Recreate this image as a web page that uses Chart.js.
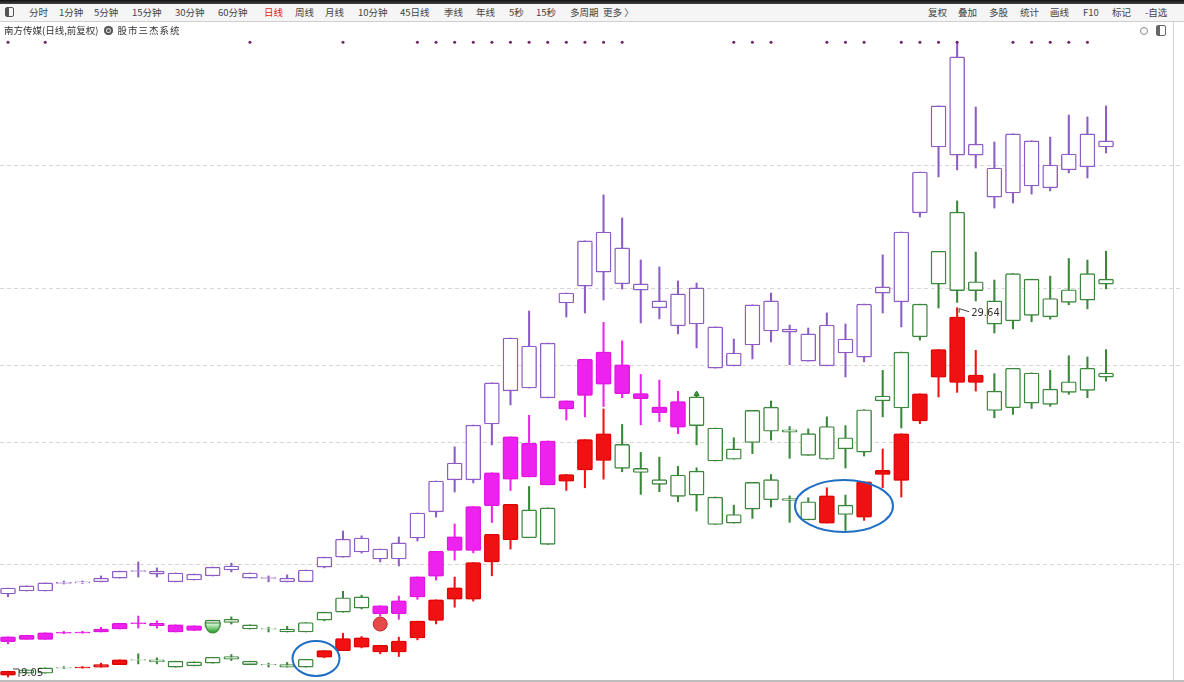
<!DOCTYPE html>
<html><head><meta charset="utf-8">
<script src="https://cdn.jsdelivr.net/npm/chart.js@4.4.1/dist/chart.umd.min.js"></script>
<style>
html,body{margin:0;padding:0;background:#fff;width:1184px;height:682px;overflow:hidden;font-family:"Noto Sans CJK SC","Noto Sans",sans-serif;}
#wrap{position:relative;width:1184px;height:682px;}
#c{position:absolute;left:0;top:0;}
#topstrip{position:absolute;left:0;top:0;width:1184px;height:4px;background:linear-gradient(#111,#444);}
#toolbar{position:absolute;left:0;top:4px;width:1184px;height:17px;background:#f5f5f5;border-bottom:1px solid #cfcfcf;font-size:9.5px;color:#444;}
#toolbar span{position:absolute;top:2px;white-space:nowrap;line-height:13px;}
#title{position:absolute;left:4px;top:24px;font-size:9.5px;color:#333;white-space:nowrap;line-height:13px;}
#title .ic{display:inline-block;width:9px;height:9px;border-radius:50%;background:#555;box-shadow:inset 0 0 0 2px #555, inset 0 0 0 3px #ddd;vertical-align:-1px;margin:0 5px 0 5px;}
#title .sys{letter-spacing:1px;}
#rb{position:absolute;left:1173px;top:22px;width:1px;height:660px;background:#d4d4d4;}
#bb{position:absolute;left:0;top:680px;width:1184px;height:2px;background:#bdbdbd;}
.box{position:absolute;border:1px solid #555;border-radius:2px;}
</style></head>
<body><div id="wrap">
<canvas id="c" width="1184" height="682"></canvas>
<div id="topstrip"></div>
<div id="toolbar">
<div class="box" style="left:5px;top:3px;width:7px;height:8px;"><div style="width:3px;height:8px;background:#555"></div></div>
<span style="left:29px">分时</span>
<span style="left:59px">1分钟</span>
<span style="left:94px">5分钟</span>
<span style="left:132px">15分钟</span>
<span style="left:175px">30分钟</span>
<span style="left:218px">60分钟</span>
<span style="left:264px;color:#e02020">日线</span>
<span style="left:295px">周线</span>
<span style="left:325px">月线</span>
<span style="left:358px">10分钟</span>
<span style="left:400px">45日线</span>
<span style="left:444px">季线</span>
<span style="left:476px">年线</span>
<span style="left:509px">5秒</span>
<span style="left:536px">15秒</span>
<span style="left:570px">多周期</span>
<span style="left:603px">更多 〉</span>
<span style="left:928px">复权</span>
<span style="left:958px">叠加</span>
<span style="left:989px">多股</span>
<span style="left:1020px">统计</span>
<span style="left:1050px">画线</span>
<span style="left:1083px">F10</span>
<span style="left:1112px">标记</span>
<span style="left:1145px">-自选</span>
</div>
<div id="title">南方传媒(日线,前复权)<span class="ic"></span><span class="sys">股市三杰系统</span></div>
<div style="position:absolute;left:1140px;top:27px;width:6px;height:6px;border:1px solid #888;border-radius:50%;"></div>
<div class="box" style="left:1156px;top:25px;width:8px;height:9px;border-color:#666"><div style="width:3px;height:9px;background:#666"></div></div>
<div id="rb"></div>
<div id="bb"></div>
</div>
<script>
// ---- data (daily candles, price units) ----
const days = [0,1,2,3,4,5,6,7,8,9,10,11,12,13,14,15,16,17,18,19,20,21,22,23,24,25,26,27,28,29,30,31,32,33,34,35,36,37,38,39,40,41,42,43,44,45,46,47,48,49,50,51,52,53,54,55,56,57,58,59];
const open  = [9.15,9.26,9.26,9.54,9.56,9.60,9.74,9.99,9.89,9.60,9.67,9.82,10.04,9.74,9.73,9.60,9.60,10.15,10.52,10.71,10.45,10.45,11.23,12.20,13.39,13.39,15.47,16.70,16.81,16.44,19.97,20.60,21.12,20.68,20.45,19.79,19.12,19.19,17.55,17.63,18.41,18.93,18.89,17.81,17.63,18.11,17.96,20.34,20.01,23.32,25.77,25.47,25.47,23.91,24.06,24.32,24.25,24.92,25.03,25.77];
const close = [9.37,9.45,9.56,9.58,9.60,9.74,10.00,10.02,10.00,9.93,9.89,10.15,10.19,9.93,9.76,9.74,10.04,10.52,11.19,11.23,10.82,11.05,12.16,13.35,14.02,15.43,17.00,18.67,18.37,18.48,20.34,22.28,22.61,22.02,20.68,20.05,20.31,20.53,19.08,18.11,19.90,20.05,19.00,18.82,19.15,18.63,19.93,20.57,22.61,24.84,27.30,29.12,25.88,24.99,26.26,26.00,25.10,25.51,26.26,26.00];
const high  = [9.37,9.45,9.56,9.63,9.63,9.82,10.00,10.34,10.12,9.93,9.89,10.15,10.30,9.93,9.82,9.86,10.04,10.52,11.49,11.31,10.82,11.27,12.16,13.35,14.62,15.43,17.00,18.67,19.67,18.48,20.34,22.28,23.99,23.13,21.57,21.31,20.79,20.71,19.08,18.63,19.90,20.34,19.15,19.04,19.60,19.19,19.93,21.76,22.61,24.84,27.30,29.64,27.26,25.96,26.26,26.00,26.14,26.96,26.89,27.30];
const low   = [9.05,9.26,9.26,9.52,9.54,9.60,9.74,9.78,9.78,9.60,9.67,9.82,9.97,9.74,9.60,9.60,9.60,10.12,10.52,10.67,10.34,10.19,11.12,12.01,12.94,13.28,14.69,16.18,16.81,16.44,19.45,19.60,20.08,20.49,19.23,19.38,18.82,18.30,17.55,17.63,17.89,18.52,17.67,17.81,17.63,17.22,17.78,19.60,19.08,23.17,24.66,24.92,24.99,23.50,23.69,24.02,24.14,24.81,24.62,25.55];
// signal state per day for the middle row (1 = magenta filled, 0 = green hollow)
const midFilled = [1,1,1,1,1,1,1,1,1,1,1,0,0,0,0,0,0,0,0,0,1,1,1,1,1,1,1,1,1,1,1,1,1,1,1,1,1,0,0,0,0,0,0,0,0,0,0,0,0,0,0,0,0,0,0,0,0,0,0,0];
// signal state per day for the bottom row (1 = red filled, 0 = green hollow)
const botFilled = [1,0,0,0,1,1,1,0,0,0,0,0,0,0,0,0,0,1,1,1,1,1,1,1,1,1,1,1,0,0,1,1,1,0,0,0,0,0,0,0,0,0,0,0,1,0,1,1,1,1,1,1,1,0,0,0,0,0,0,0];
// days with a signal dot in the top marker row
const signalDays = [0,2,13,18,22,23,24,25,26,27,28,29,30,31,32,33,39,40,41,44,45,46,48,49,50,51,54,55,56,57,58];
// special markers
const redBallDay = 20, redBallPrice = 9.97;      // middle-row scale
const cupDay = 11, cupPrice = 9.79;              // middle-row scale
const tipDay = 37, tipPrice = 20.66;             // middle-row scale
// hand-drawn circles (bottom-row scale)
const circleDays = [16.55, 44.92];
const circlePrices = [10.08, 18.58];
// dashed reference levels (top-row scale)
const gridLevels = [25.10, 20.53, 17.65, 14.80, 10.26];

// ---- styles ----
const PURPLE = '#8d5cc4', MAGENTA = '#ee22ee', GREEN = '#3a863a', RED = '#f01212';

function bodies(sel) { return days.filter(i => sel(i)).map(i => ({x: days[i], y: [open[i], close[i]]})); }
function wicks() { return days.map(i => ({x: days[i], y: [low[i], high[i]]})); }

const bodyOpts = {barThickness: 15, borderWidth: 1.4, borderSkipped: false, borderRadius: 1.5, grouped: false, order: 1};
const wickOpts = {barThickness: 1.4, borderWidth: 0, grouped: false, order: 2};

// cup marker image
const cup = document.createElement('canvas'); cup.width = 18; cup.height = 16;
(function(){ const g = cup.getContext('2d');
  const gr = g.createLinearGradient(0,3,0,13); gr.addColorStop(0,'#f0fbf0'); gr.addColorStop(0.35,'#9ede9e'); gr.addColorStop(1,'#229a22');
  g.beginPath(); g.moveTo(1.5,3); g.lineTo(16.5,3); g.ellipse(9,3,7.5,10,0,0,Math.PI,false); g.closePath();
  g.fillStyle = gr; g.fill(); g.lineWidth = 1.2; g.strokeStyle = '#2a7a2a'; g.stroke(); })();

const datasets = [
  Object.assign({label:'topWick', data: wicks(), yAxisID:'yT', backgroundColor: PURPLE}, wickOpts),
  Object.assign({label:'topBody', data: bodies(i => true), yAxisID:'yT', backgroundColor:'#ffffff', borderColor: PURPLE}, bodyOpts),
  Object.assign({label:'midWick', data: wicks(), yAxisID:'yM', backgroundColor: days.map(i => midFilled[i] ? MAGENTA : GREEN)}, wickOpts),
  Object.assign({label:'midFill', data: bodies(i => midFilled[i]), yAxisID:'yM', backgroundColor: MAGENTA, borderColor:'#d814d8', glow:'rgba(255,40,255,0.7)'}, bodyOpts),
  Object.assign({label:'midHollow', data: bodies(i => !midFilled[i]), yAxisID:'yM', backgroundColor:'#ffffff', borderColor: GREEN}, bodyOpts),
  Object.assign({label:'botWick', data: wicks(), yAxisID:'yB', backgroundColor: days.map(i => botFilled[i] ? RED : GREEN)}, wickOpts),
  Object.assign({label:'botFill', data: bodies(i => botFilled[i]), yAxisID:'yB', backgroundColor: RED, borderColor:'#d80000', glow:'rgba(255,30,30,0.6)'}, bodyOpts),
  Object.assign({label:'botHollow', data: bodies(i => !botFilled[i]), yAxisID:'yB', backgroundColor:'#ffffff', borderColor: GREEN}, bodyOpts),
  {type:'scatter', label:'ball', data:[{x: redBallDay, y: redBallPrice}], yAxisID:'yM', pointRadius:7, backgroundColor:'#e64a4a', borderColor:'#b82828', borderWidth:1, order:0},
  {type:'scatter', label:'cup', data:[{x: cupDay, y: cupPrice}], yAxisID:'yM', pointStyle: cup, order:0},
  {type:'scatter', label:'tip', data:[{x: tipDay, y: tipPrice}], yAxisID:'yM', pointStyle:'triangle', pointRadius:3, backgroundColor:'#3aa03a', borderColor:'#2a7a2a', borderWidth:1, order:0},
  {type:'scatter', label:'dots', data: signalDays.map(d => ({x: d, y: 0.938})), yAxisID:'yD', pointRadius:1.5, backgroundColor:'#6e2466', borderWidth:0, order:0}
];

const glowPlugin = {
  id:'glow',
  beforeDatasetDraw(chart, args){ const ds = chart.data.datasets[args.index]; if (ds.glow){ chart.ctx.save(); chart.ctx.shadowColor = ds.glow; chart.ctx.shadowBlur = 5; } },
  afterDatasetDraw(chart, args){ const ds = chart.data.datasets[args.index]; if (ds.glow){ chart.ctx.restore(); } }
};
const gridPlugin = {
  id:'levels',
  beforeDatasetsDraw(chart){ const ctx = chart.ctx, yT = chart.scales.yT;
    ctx.save(); ctx.strokeStyle = '#d6d6d6'; ctx.lineWidth = 1; ctx.setLineDash([4,3]);
    gridLevels.forEach(v => { const y = Math.round(yT.getPixelForValue(v)) + 0.5; ctx.beginPath(); ctx.moveTo(0,y); ctx.lineTo(1180,y); ctx.stroke(); });
    ctx.restore(); }
};
const notePlugin = {
  id:'notes',
  afterDatasetsDraw(chart){ const ctx = chart.ctx, x = chart.scales.x, yB = chart.scales.yB;
    ctx.save();
    ctx.strokeStyle = '#1f6fc4'; ctx.lineWidth = 2;
    const rx = [23.5, 49], ry = [17.5, 26];
    circleDays.forEach((d, k) => { ctx.beginPath(); ctx.ellipse(x.getPixelForValue(d), yB.getPixelForValue(circlePrices[k]), rx[k], ry[k], 0, 0, Math.PI*2); ctx.stroke(); });
    // max / min price notes
    ctx.font = '10px "DejaVu Sans", sans-serif'; ctx.fillStyle = '#333'; ctx.strokeStyle = '#444'; ctx.lineWidth = 1;
    const hx = x.getPixelForValue(51), hy = yB.getPixelForValue(high[51]);
    ctx.beginPath(); ctx.moveTo(hx+2, hy+1); ctx.lineTo(hx+12, hy+4); ctx.moveTo(hx+2, hy+1); ctx.lineTo(hx+2, hy+5); ctx.stroke();
    ctx.textBaseline = 'middle'; ctx.fillText(high[51].toFixed(2), hx+14, hy+6);
    const lx = x.getPixelForValue(0), ly = yB.getPixelForValue(low[0]);
    ctx.beginPath(); ctx.moveTo(lx+5, ly-8); ctx.lineTo(lx+11, ly-8); ctx.lineTo(lx+11, ly); ctx.stroke();
    ctx.fillText(low[0].toFixed(2), lx+13, ly-4);
    ctx.restore(); }
};

new Chart(document.getElementById('c'), {
  type:'bar',
  data:{ datasets },
  options:{
    responsive:false, animation:false, maintainAspectRatio:false,
    layout:{padding:0, autoPadding:false},
    plugins:{legend:{display:false}, tooltip:{enabled:false}},
    scales:{
      x:{type:'linear', min:-0.43, max:63.19, offset:false, display:false},
      yT:{type:'linear', min:5.876, max:31.238, display:false},
      yM:{type:'linear', min:7.275, max:38.978, display:false},
      yB:{type:'linear', min:8.770, max:46.794, display:false},
      yD:{type:'linear', min:0, max:1, display:false}
    }
  },
  plugins:[glowPlugin, gridPlugin, notePlugin]
});
</script>
</body></html>
